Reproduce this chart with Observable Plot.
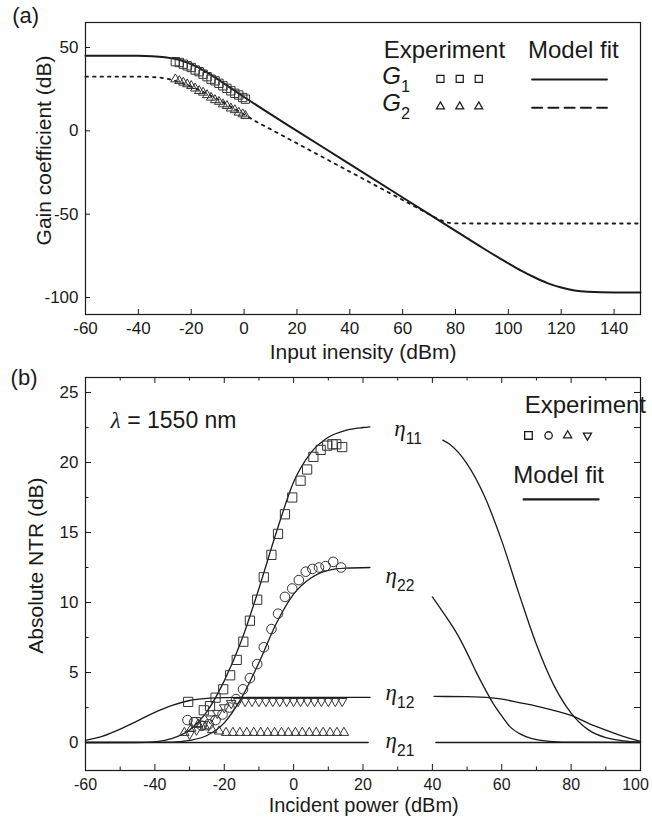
<!DOCTYPE html>
<html>
<head>
<meta charset="utf-8">
<script src="https://cdn.jsdelivr.net/npm/d3@7"></script>
<script src="https://cdn.jsdelivr.net/npm/@observablehq/plot@0.6"></script>
<style>
  html, body { margin: 0; padding: 0; background: #fff; }
  #wrap { position: relative; width: 652px; height: 818px; overflow: hidden; }
  #wrap svg { position: absolute; left: 0; }
</style>
</head>
<body>
<div id="wrap"></div>
<script>
// ================= Panel (a) data =================
const aXTicks = [-60, -40, -20, 0, 20, 40, 60, 80, 100, 120, 140];
const aYTicks = [-100, -50, 0, 50];

// G1 model fit (solid)
const g1FitX = [-60, -50, -40, -35, -30, -25, -20, -15, -10, -5, 0, 10, 20, 40, 60, 80, 90, 100, 105, 110, 115, 120, 125, 130, 140, 150];
const g1FitY = [45, 45, 45, 44.8, 44.2, 42.8, 40, 36, 31, 25.6, 20.3, 10, 0, -20, -40, -60, -70, -79.5, -84, -88, -91.5, -94, -95.8, -96.6, -97, -97];
// G2 model fit (dotted)
const g2FitX = [-60, -40, -35, -30, -25, -20, -15, -10, -5, 0, 5, 10, 20, 30, 40, 50, 60, 70, 74, 77, 80, 90, 150];
const g2FitY = [32.5, 32.5, 32.3, 31.5, 29.5, 26.5, 23, 19, 14.5, 9.8, 5.2, 1, -7.5, -16, -24.5, -33, -41.5, -50, -53.3, -55, -55.5, -55.6, -55.6];
// G1 experiment (squares)
const g1ExpX = [-26, -24.5, -23, -21.5, -20, -18.5, -17, -15.5, -14, -12.5, -11, -9.5, -8, -6.5, -5, -3.5, -2, -0.5, 0.5];
const g1ExpY = [41.5, 41, 40, 39, 38, 36.5, 35.5, 34, 32.5, 31, 30, 28.5, 27, 25.5, 24, 22.5, 21.5, 20, 19];
// G2 experiment (triangles)
const g2ExpX = [-26, -24.5, -23, -21.5, -20, -18.5, -17, -15.5, -14, -12.5, -11, -9.5, -8, -6.5, -5, -3.5, -2, -0.5, 0.5];
const g2ExpY = [31, 30, 29, 28, 27, 25.5, 24, 23, 21.5, 20, 18.5, 17.5, 16, 15, 13.5, 12.5, 11, 10, 9];

// ================= Panel (b) data =================
const bXTicks = [-60, -40, -20, 0, 20, 40, 60, 80, 100];
const bXMinor = [-50, -30, -10, 10, 30, 50, 70, 90];
const bYTicks = [0, 5, 10, 15, 20, 25];
const bYMinor = [2.5, 7.5, 12.5, 17.5, 22.5];

// Model fits (left branch rises, right branch falls)
const eta11aX = [-60, -45, -40, -35, -30, -25, -20, -15, -10, -5, 0, 5, 10, 15, 20, 22];
const eta11aY = [0, 0, 0.05, 0.3, 0.9, 2.2, 4.4, 7.3, 11, 15, 18.6, 20.7, 21.8, 22.3, 22.5, 22.55];
const eta11bX = [43, 45, 50, 55, 60, 65, 70, 75, 80, 85, 90, 95, 100];
const eta11bY = [21.6, 21.3, 19.9, 17.6, 14.4, 10.6, 7.0, 4.1, 2.1, 0.9, 0.35, 0.12, 0.03];
const eta22aX = [-60, -35, -30, -25, -20, -15, -10, -5, 0, 5, 10, 15, 22];
const eta22aY = [0, 0.02, 0.15, 0.5, 1.4, 3.2, 5.7, 8.5, 10.6, 11.75, 12.3, 12.45, 12.5];
const eta22bX = [40, 42.5, 45, 47.5, 50, 52.5, 55, 57.5, 60, 62.5, 65, 70, 75, 80, 100];
const eta22bY = [10.4, 9.5, 8.6, 7.6, 6.4, 5.1, 3.9, 2.8, 1.9, 1.1, 0.65, 0.2, 0.06, 0.02, 0];
const eta12aX = [-60, -55, -50, -45, -40, -35, -30, -25, -20, -10, 0, 10, 22];
const eta12aY = [0.15, 0.45, 0.95, 1.55, 2.15, 2.65, 3.0, 3.15, 3.2, 3.22, 3.22, 3.22, 3.22];
const eta12bX = [40.5, 50, 57, 60, 65, 70, 75, 80, 85, 90, 95, 100];
const eta12bY = [3.29, 3.27, 3.19, 3.1, 2.85, 2.6, 2.29, 1.93, 1.37, 0.88, 0.43, 0.08];
const eta21aX = [-60, 21.5];
const eta21aY = [0, 0];
const eta21bX = [41, 100];
const eta21bY = [0, 0];

// Experiment markers
const sqX = [-30.4, -28.2, -25.9, -24.1, -22.5, -20.3, -18.3, -16.4, -14.5, -12.6, -10.5, -8.6, -6.4, -4.5, -2.5, -0.4, 2, 3.9, 5.7, 7.8, 9.7, 11.2, 12.3, 14];
const sqY = [2.9, 1.45, 2.3, 2.6, 3.2, 3.8, 4.8, 5.9, 7.2, 8.7, 10.2, 11.8, 13.4, 14.9, 16.3, 17.5, 18.7, 19.5, 20.4, 20.9, 21.2, 21.3, 21.3, 21.1];
const ciX = [-30.6, -28.7, -26.5, -24.5, -22.5, -20.5, -18.5, -16.6, -14.6, -12.6, -10.5, -8.6, -6.4, -4.5, -2.5, -0.4, 1.5, 3.5, 5.4, 7.3, 9.2, 11.4, 13.7];
const ciY = [1.6, 1.45, 1.2, 1.3, 1.6, 2.0, 2.5, 3.1, 3.8, 4.6, 5.6, 6.8, 8.1, 9.2, 10.4, 11.0, 11.6, 12.2, 12.4, 12.5, 12.6, 12.9, 12.5];
const upX = [-31.5, -29.5, -27.5, -25.5, -23.5, -21.5, -19.5, -17.5, -15.5, -13.5, -11.5, -9.5, -7.5, -5.5, -3.5, -1.5, 0.5, 2.5, 4.5, 6.5, 8.5, 10.5, 12.5, 14.5];
const upY = [0.7, 1.0, 1.3, 1.1, 0.9, 0.8, 0.7, 0.7, 0.7, 0.7, 0.7, 0.7, 0.7, 0.7, 0.7, 0.7, 0.7, 0.7, 0.7, 0.7, 0.7, 0.7, 0.7, 0.7];
const dnX = [-30, -28, -26, -24, -22, -20, -18, -16, -14, -12, -10, -8, -6, -4, -2, 0, 2, 4, 6, 8, 10, 12, 14];
const dnY = [0.6, 0.9, 1.3, 1.7, 2.1, 2.5, 2.8, 2.95, 2.95, 2.95, 2.95, 2.95, 2.95, 2.95, 2.95, 2.95, 2.95, 2.95, 2.95, 2.95, 2.95, 2.95, 2.95];

// Curve labels
const etaLabels = ["η_11", "η_22", "η_12", "η_21"];
const etaLabelX = [29, 26.5, 26.5, 26.5];
const etaLabelY = [22.4, 11.9, 3.55, 0.1];

// ================= helpers =================
const pts = (xs, ys) => xs.map((x, i) => ({x, y: ys[i]}));
const FONT = "'Liberation Sans', Arial, Helvetica, sans-serif";
const SERIF = "'Liberation Serif', 'DejaVu Serif', serif";
const INK = "#1a1a1a";
const tf = d => String(d);

function richText(svg) {
  d3.select(svg).selectAll("text").each(function () {
    if (this.querySelector("tspan")) return;
    const t = this.textContent;
    const sel = d3.select(this);
    if (t.includes("_")) {
      const [base, sub] = t.split("_");
      sel.text(null);
      sel.append("tspan").attr("font-style", "italic")
        .attr("font-family", base === "η" ? SERIF : FONT).text(base);
      sel.append("tspan").attr("font-size", "0.68em").attr("dy", "0.5em").text(sub);
    } else if (t.startsWith("λ")) {
      sel.text(null);
      sel.append("tspan").attr("font-style", "italic").attr("font-family", SERIF).text("λ");
      sel.append("tspan").text(t.slice(1));
    }
  });
}

// ================= Panel (a) =================
const aW = 555, aH = 292;
const aLine = {x: "x", y: "y", stroke: INK, curve: "monotone-x"};
const plotA = Plot.plot({
  width: 652, height: 365,
  marginLeft: 85, marginRight: 12, marginTop: 22, marginBottom: 51,
  x: {domain: [-60, 150], label: null},
  y: {domain: [-110.2, 65], label: null},
  style: {fontFamily: FONT, color: INK, background: "transparent", overflow: "visible"},
  marks: [
    Plot.tickX(aXTicks, {x: d => d, insetTop: aH - 5, stroke: INK}),
    Plot.tickY(aYTicks, {y: d => d, insetRight: aW - 5, stroke: INK}),
    Plot.axisX(aXTicks, {tickSize: 0, tickPadding: 7, fontSize: 17, tickFormat: tf, label: null}),
    Plot.axisY(aYTicks, {tickSize: 0, tickPadding: 7, fontSize: 17, tickFormat: tf, label: null}),
    Plot.line(pts(g2FitX, g2FitY), {...aLine, strokeWidth: 1.8, strokeDasharray: "2.5,5"}),
    Plot.line(pts(g1FitX, g1FitY), {...aLine, strokeWidth: 2}),
    Plot.dot(pts(g1ExpX, g1ExpY), {x: "x", y: "y", symbol: "square", r: 4.7, stroke: "#333", strokeWidth: 1, fill: "none"}),
    Plot.dot(pts(g2ExpX, g2ExpY), {x: "x", y: "y", symbol: "triangle", r: 3.4, stroke: "#333", strokeWidth: 1, fill: "none"}),
    // legend
    Plot.text(["Experiment"], {x: 75.8, y: 48.2, fontSize: 24, fill: INK}),
    Plot.text(["Model fit"], {x: 124.6, y: 48.2, fontSize: 24, fill: INK}),
    Plot.text(["G_1"], {x: 52.3, y: 32.8, textAnchor: "start", fontSize: 24, fill: INK}),
    Plot.text(["G_2"], {x: 52.3, y: 16.7, textAnchor: "start", fontSize: 24, fill: INK}),
    Plot.dot([74.3, 81.6, 88.8], {x: d => d, y: 31.2, symbol: "square", r: 4, stroke: INK, strokeWidth: 1.2, fill: "none"}),
    Plot.dot([74.3, 81.6, 88.8], {x: d => d, y: 14.6, symbol: "triangle", r: 3, stroke: INK, strokeWidth: 1.2, fill: "none"}),
    Plot.line([109, 137.3], {x: d => d, y: 30.8, stroke: INK, strokeWidth: 2}),
    Plot.line([109, 137.3], {x: d => d, y: 13.8, stroke: INK, strokeWidth: 2, strokeDasharray: "10,6.25"}),
    // titles (placed in data space outside the frame)
    Plot.text(["Input inensity (dBm)"], {x: 45, y: -133, fontSize: 21, fill: INK}),
    Plot.text(["Gain coefficient (dB)"], {x: -75.6, y: -11.8, rotate: -90, fontSize: 21, fill: INK}),
    Plot.text(["(a)"], {x: -87.7, y: 69.2, textAnchor: "start", fontSize: 22, fill: INK}),
    Plot.frame({stroke: INK, strokeWidth: 1.2})
  ]
});

// ================= Panel (b) =================
const bW = 555, bH = 393;
const bLine = {x: "x", y: "y", stroke: INK, strokeWidth: 1.3, curve: "monotone-x"};
const bXLabelsMain = bXTicks.slice(0, -1);
const bXLabelsLast = bXTicks.slice(-1);
const plotB = Plot.plot({
  width: 652, height: 453,
  marginLeft: 85, marginRight: 12, marginTop: 12, marginBottom: 48,
  x: {domain: [-60, 100], label: null},
  y: {domain: [-2, 26.07], label: null},
  style: {fontFamily: FONT, color: INK, background: "transparent", overflow: "visible"},
  marks: [
    // ticks (inward) bottom/top/left/right
    Plot.tickX(bXTicks, {x: d => d, insetTop: bH - 6, stroke: INK}),
    Plot.tickX(bXMinor, {x: d => d, insetTop: bH - 3.5, stroke: INK}),
    Plot.tickX(bXTicks, {x: d => d, insetBottom: bH - 6, stroke: INK}),
    Plot.tickX(bXMinor, {x: d => d, insetBottom: bH - 3.5, stroke: INK}),
    Plot.tickY(bYTicks, {y: d => d, insetRight: bW - 6, stroke: INK}),
    Plot.tickY(bYMinor, {y: d => d, insetRight: bW - 3.5, stroke: INK}),
    Plot.tickY(bYTicks, {y: d => d, insetLeft: bW - 6, stroke: INK}),
    Plot.tickY(bYMinor, {y: d => d, insetLeft: bW - 6, stroke: INK}),
    Plot.axisX(bXLabelsMain, {tickSize: 0, tickPadding: 8, fontSize: 16, tickFormat: tf, label: null}),
    Plot.axisX(bXLabelsLast, {tickSize: 0, tickPadding: 8, fontSize: 16, tickFormat: tf, label: null, dx: -5}),
    Plot.axisY(bYTicks, {tickSize: 0, tickPadding: 7, fontSize: 17, tickFormat: tf, label: null}),
    // model fits
    Plot.line(pts(eta21aX, eta21aY), bLine),
    Plot.line(pts(eta21bX, eta21bY), bLine),
    Plot.line(pts(eta12aX, eta12aY), bLine),
    Plot.line(pts(eta12bX, eta12bY), bLine),
    Plot.line(pts(eta22aX, eta22aY), bLine),
    Plot.line(pts(eta22bX, eta22bY), bLine),
    Plot.line(pts(eta11aX, eta11aY), bLine),
    Plot.line(pts(eta11bX, eta11bY), bLine),
    // experiments
    Plot.dot(pts(upX, upY), {x: "x", y: "y", symbol: "triangle", r: 3.5, stroke: "#333", strokeWidth: 1, fill: "none"}),
    Plot.dot(pts(dnX, dnY), {x: "x", y: "y", symbol: "triangle", rotate: 180, r: 3.5, stroke: "#333", strokeWidth: 1, fill: "none"}),
    Plot.dot(pts(ciX, ciY), {x: "x", y: "y", symbol: "circle", r: 4.8, stroke: "#333", strokeWidth: 1, fill: "none"}),
    Plot.dot(pts(sqX, sqY), {x: "x", y: "y", symbol: "square", r: 5.2, stroke: "#333", strokeWidth: 1, fill: "none"}),
    // curve labels
    Plot.text(etaLabels, {x: (d, i) => etaLabelX[i], y: (d, i) => etaLabelY[i], textAnchor: "start", fontSize: 23, fill: INK}),
    // annotations / legend
    Plot.text(["λ = 1550 nm"], {x: -52.7, y: 23.0, textAnchor: "start", fontSize: 23, fill: INK}),
    Plot.text(["Experiment"], {x: 84.1, y: 24.07, fontSize: 24, fill: INK}),
    Plot.dot([67.7], {x: d => d, y: 21.93, symbol: "square", r: 4.3, stroke: INK, strokeWidth: 1.3, fill: "none"}),
    Plot.dot([73.5], {x: d => d, y: 21.93, symbol: "circle", r: 3.7, stroke: INK, strokeWidth: 1.3, fill: "none"}),
    Plot.dot([79.0], {x: d => d, y: 21.93, symbol: "triangle", r: 3, stroke: INK, strokeWidth: 1.3, fill: "none"}),
    Plot.dot([84.7], {x: d => d, y: 21.93, symbol: "triangle", rotate: 180, r: 3, stroke: INK, strokeWidth: 1.3, fill: "none"}),
    Plot.text(["Model fit"], {x: 76.4, y: 19.07, fontSize: 24, fill: INK}),
    Plot.line([66.3, 87.9], {x: d => d, y: 17.36, stroke: INK, strokeWidth: 2.2}),
    // titles (placed in data space outside the frame)
    Plot.text(["Incident power (dBm)"], {x: 20.2, y: -4.5, fontSize: 20, fill: INK}),
    Plot.text(["Absolute NTR (dB)"], {x: -74.1, y: 12.64, rotate: -90, fontSize: 21, fill: INK}),
    Plot.text(["(b)"], {x: -81.6, y: 26.05, textAnchor: "start", fontSize: 22, fill: INK}),
    Plot.frame({stroke: INK, strokeWidth: 1.2})
  ]
});

richText(plotA);
richText(plotB);
plotA.style.top = "0px";
plotB.style.top = "365px";
const wrap = document.getElementById("wrap");
wrap.appendChild(plotA);
wrap.appendChild(plotB);
</script>
</body>
</html>
